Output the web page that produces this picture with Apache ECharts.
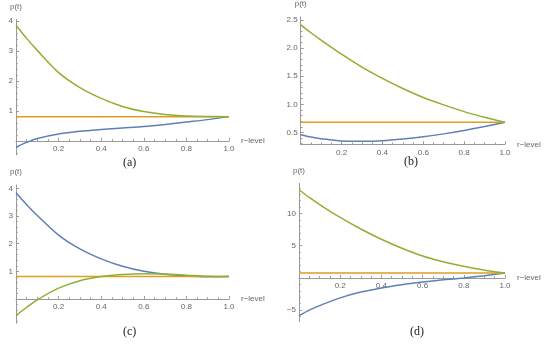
<!DOCTYPE html>
<html><head><meta charset="utf-8">
<script src="https://cdn.jsdelivr.net/npm/echarts@6/dist/echarts.min.js"></script>
<style>html,body{margin:0;padding:0;background:#fff}#c{width:550px;height:345px}</style>
</head><body><div id="c"></div>
<script>
// ---- data ----
const rLevel = [0, 0.05, 0.1, 0.2, 0.3, 0.4, 0.5, 0.6, 0.7, 0.8, 0.9, 1.0];

const aBlue   = [-0.21, -0.05, 0.08, 0.23, 0.32, 0.38, 0.43, 0.48, 0.55, 0.63, 0.71, 0.81];
const aOrange = [0.81, 0.81, 0.81, 0.81, 0.81, 0.81, 0.81, 0.81, 0.81, 0.81, 0.81, 0.81];
const aGreen  = [3.86, 3.42, 3.02, 2.28, 1.78, 1.42, 1.15, 0.98, 0.88, 0.83, 0.815, 0.81];

const bBlue   = [0.46, 0.42, 0.39, 0.35, 0.345, 0.355, 0.385, 0.425, 0.475, 0.535, 0.605, 0.68];
const bOrange = [0.68, 0.68, 0.68, 0.68, 0.68, 0.68, 0.68, 0.68, 0.68, 0.68, 0.68, 0.68];
const bGreen  = [2.41, 2.27, 2.14, 1.89, 1.66, 1.46, 1.28, 1.12, 0.99, 0.87, 0.77, 0.68];

const cBlue   = [3.84, 3.41, 3.02, 2.31, 1.81, 1.45, 1.18, 1.00, 0.89, 0.83, 0.80, 0.81];
const cOrange = [0.81, 0.81, 0.81, 0.81, 0.81, 0.81, 0.81, 0.81, 0.81, 0.81, 0.81, 0.81];
const cGreen  = [-0.60, -0.30, -0.03, 0.39, 0.66, 0.81, 0.88, 0.91, 0.90, 0.86, 0.82, 0.81];

const dBlue   = [-5.85, -5.0, -4.3, -3.1, -2.2, -1.55, -1.05, -0.65, -0.3, 0.0, 0.35, 0.75];
const dOrange = [0.75, 0.75, 0.75, 0.75, 0.75, 0.75, 0.75, 0.75, 0.75, 0.75, 0.75, 0.75];
const dGreen  = [13.7, 12.5, 11.4, 9.4, 7.6, 6.0, 4.6, 3.4, 2.5, 1.8, 1.2, 0.75];

const aTicks = [1, 2, 3, 4];
const bTicks = [0.5, 1.0, 1.5, 2.0, 2.5];
const cTicks = [1, 2, 3, 4];
const dTicks = [-5, 5, 10];
const xTicks = [0.2, 0.4, 0.6, 0.8, 1.0];
const panelLabels = ['(a)', '(b)', '(c)', '(d)'];

// ---- layout ----
const panels = [
  {grid:{left:16, top:19.5, width:213, height:135.5}, min:-0.47, max:4.05, ticks:aTicks, minorStep:0.2, dec:0, data:[aBlue,aOrange,aGreen], label:[131,165]},
  {grid:{left:300.7, top:16.2, width:204.3, height:128.1}, min:0.29, max:2.55, ticks:bTicks, minorStep:0.1, dec:1, data:[bBlue,bOrange,bGreen], label:[412,164]},
  {grid:{left:16, top:185, width:213, height:138.3}, min:-0.88, max:4.12, ticks:cTicks, minorStep:0.2, dec:0, data:[cBlue,cOrange,cGreen], label:[131,334]},
  {grid:{left:299, top:183.3, width:206, height:138.4}, min:-6.8, max:14.7, ticks:dTicks, minorStep:1, dec:0, data:[dBlue,dOrange,dGreen], label:[418,334]}
];
const colors = ['#5E81B5', '#E19C24', '#8FB032'];
const axisColor = '#9a9a9a';
const labelColor = '#666';
const font = 'Liberation Sans';

const grids = [], xAxes = [], yAxes = [], series = [], graphics = [];
panels.forEach((p, i) => {
  // main grid: data + y axis
  const gMain = grids.length;
  grids.push(p.grid);
  const xMain = xAxes.length;
  xAxes.push({type:'value', gridIndex:gMain, min:0, max:1, show:false});
  const yMain = yAxes.length;
  const minors = [];
  const start = Math.ceil(p.min / p.minorStep);
  const end = Math.floor(p.max / p.minorStep);
  for (let k = start; k <= end; k++) minors.push(+(k * p.minorStep).toFixed(4));
  yAxes.push({
    type:'value', gridIndex:gMain, min:p.min, max:p.max, position:'left',
    name:'p(t)', nameLocation:'end', nameGap:9,
    nameTextStyle:{color:labelColor, fontSize:8, fontFamily:font, align:'center'},
    axisLine:{show:true, onZero:false, lineStyle:{color:axisColor, width:1}},
    axisTick:{show:true, inside:true, length:3, customValues:p.ticks, lineStyle:{color:axisColor}},
    axisLabel:{show:true, margin:3, color:labelColor, fontSize:8, fontFamily:font, customValues:p.ticks,
      formatter:v => v.toFixed(p.dec).replace('-', '\u2212')},
    splitLine:{show:false}
  });
  yAxes.push({
    type:'value', gridIndex:gMain, min:p.min, max:p.max, position:'left', offset:0,
    axisLine:{show:false, onZero:false},
    axisTick:{show:true, inside:true, length:1.8, customValues:minors, lineStyle:{color:axisColor}},
    axisLabel:{show:false}, splitLine:{show:false}
  });
  // x-axis grid: its bottom edge sits on y = 0 (or on the plot bottom when 0 is out of range)
  const yCross = Math.max(p.min, 0);
  const crossPx = p.grid.top + p.grid.height * (p.max - yCross) / (p.max - p.min);
  const gX = grids.length;
  grids.push({left:p.grid.left, width:p.grid.width, top:p.grid.top, height:crossPx - p.grid.top});
  xAxes.push({
    type:'value', gridIndex:gX, min:0, max:1, interval:0.2, position:'bottom',
    name:'r\u2212level', nameLocation:'end', nameGap:12,
    nameTextStyle:{color:labelColor, fontSize:8, fontFamily:font},
    axisLine:{show:true, onZero:false, lineStyle:{color:axisColor, width:1}},
    axisTick:{show:true, inside:true, length:3, lineStyle:{color:axisColor}},
    minorTick:{show:true, splitNumber:4, length:1.8, lineStyle:{color:axisColor}},
    axisLabel:{show:true, margin:4, color:labelColor, fontSize:8, fontFamily:font,
      formatter:v => (v === 0 ? '' : v.toFixed(1))},
    splitLine:{show:false}, minorSplitLine:{show:false}
  });
  yAxes.push({type:'value', gridIndex:gX, min:0, max:1, show:false});

  p.data.forEach((arr, s) => {
    series.push({
      type:'line', xAxisIndex:xMain, yAxisIndex:yMain, showSymbol:false,
      smooth:s === 1 ? false : 0.3,
      data: rLevel.map((r, j) => [r, arr[j]]),
      lineStyle:{color:colors[s], width:1.5}, itemStyle:{color:colors[s]}, z:2 + s,
      animation:false
    });
  });
  graphics.push({type:'text', left:p.label[0] - 8, top:p.label[1] - 8,
    style:{text:panelLabels[i], font:'12px "Liberation Serif"', fill:'#222'}});
});

const chart = echarts.init(document.getElementById('c'), null, {renderer:'canvas'});
chart.setOption({
  animation:false, backgroundColor:'#fff',
  grid:grids, xAxis:xAxes, yAxis:yAxes, series:series, graphic:graphics
});
</script></body></html>
